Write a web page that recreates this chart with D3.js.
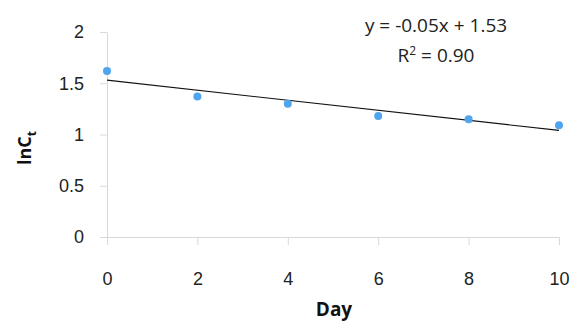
<!DOCTYPE html>
<html>
<head>
<meta charset="utf-8">
<script src="https://cdn.jsdelivr.net/npm/d3@7"></script>
<style>
  body { margin: 0; background: #fff; }
  svg { display: block; font-family: "Open Sans", "Liberation Sans", sans-serif; }
</style>
</head>
<body>
<div id="chart"></div>
<script>
// data
const days = [0, 2, 4, 6, 8, 10];
const lnCt = [1.62, 1.37, 1.30, 1.18, 1.15, 1.09];
const xTicks = [0, 2, 4, 6, 8, 10];
const yTicks = [0, 0.5, 1, 1.5, 2];
const equationText = "y = -0.05x + 1.53";
const r2Text = "0.90";

(function chart() {
    const width = 574,
        height = 323,
        margin = ({ top: 32, right: 15, bottom: 86, left: 107 });

    const svg = d3.select("#chart")
        .append("svg")
        .attr("width", width)
        .attr("height", height);

    let data = days.map((d, i) => ({ day: d, v: lnCt[i] }));

    let x = d3.scaleLinear()
        .domain([0, 10])
        .range([margin.left, 559]);

    let y = d3.scaleLinear()
        .domain([0, 2])
        .range([237, margin.top]);

    const axisColor = "#d9d9d9";

    // y axis
    let yAxis = svg.append("g")
        .attr("transform", `translate(${margin.left},0)`)
        .call(d3.axisLeft(y).tickValues(yTicks).tickSize(7).tickPadding(16)
            .tickFormat(d3.format("")).tickSizeOuter(0));
    yAxis.select(".domain").attr("stroke", axisColor);
    yAxis.selectAll(".tick line").attr("stroke", axisColor);
    yAxis.selectAll(".tick text").attr("font-size", 18).attr("fill", "#222");

    // x axis, ticks hang below
    let xAxis = svg.append("g")
        .attr("transform", `translate(0,${y(0)})`)
        .call(d3.axisBottom(x).tickValues(xTicks).tickSize(8).tickPadding(27)
            .tickSizeOuter(0));
    xAxis.select(".domain").attr("stroke", axisColor);
    xAxis.selectAll(".tick line").attr("stroke", axisColor);
    xAxis.selectAll(".tick text").attr("font-size", 18).attr("fill", "#222");

    // least squares trendline
    let mx = d3.mean(days), my = d3.mean(lnCt);
    let sxy = d3.sum(data, d => (d.day - mx) * (d.v - my));
    let sxx = d3.sum(data, d => (d.day - mx) ** 2);
    let slope = sxy / sxx, icpt = my - slope * mx;

    let line = d3.line()
        .x(d => x(d))
        .y(d => y(slope * d + icpt));

    svg.append("path")
        .datum([0, 10])
        .attr("d", line)
        .attr("fill", "none")
        .attr("stroke", "#111")
        .attr("stroke-width", 1.2);

    // points
    svg.append("g")
        .selectAll("circle")
        .data(data)
        .enter()
        .append("circle")
            .attr("cx", d => x(d.day))
            .attr("cy", d => y(d.v))
            .attr("r", 4)
            .attr("fill", "#4fa5ee");

    // equation
    svg.append("text")
        .attr("x", 436)
        .attr("y", 32)
        .attr("text-anchor", "middle")
        .attr("font-size", 19)
        .attr("fill", "#222")
        .text(equationText);

    let r2 = svg.append("text")
        .attr("x", 436)
        .attr("y", 62)
        .attr("text-anchor", "middle")
        .attr("font-size", 19)
        .attr("fill", "#222");
    r2.append("tspan").text("R");
    r2.append("tspan").attr("font-size", 12).attr("dy", -7).text("2");
    r2.append("tspan").attr("dy", 7).text(" = " + r2Text);

    // axis labels
    svg.append("text")
        .attr("x", 334)
        .attr("y", 316)
        .attr("text-anchor", "middle")
        .attr("font-size", 19)
        .attr("font-weight", "bold")
        .attr("fill", "#111")
        .text("Day");

    let yl = svg.append("text")
        .attr("transform", "translate(31,148) rotate(-90)")
        .attr("text-anchor", "middle")
        .attr("font-size", 18)
        .attr("font-weight", "bold")
        .attr("fill", "#111");
    yl.append("tspan").text("lnC");
    yl.append("tspan").attr("font-size", 12).attr("dy", 5).text("t");
})();
</script>
</body>
</html>
